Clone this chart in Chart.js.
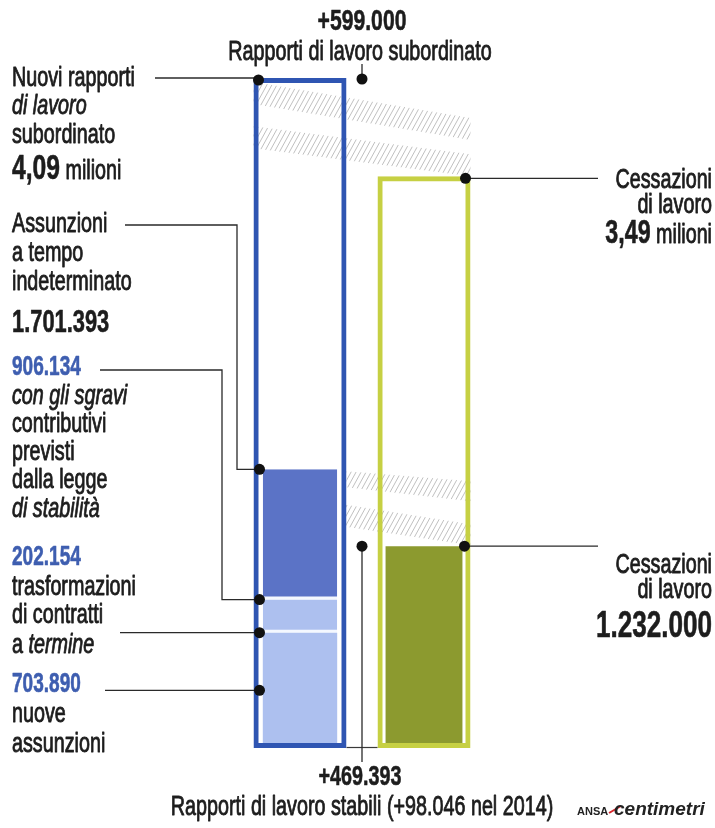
<!DOCTYPE html>
<html lang="it">
<head>
<meta charset="utf-8">
<title>Rapporti di lavoro subordinato</title>
<script src="https://cdn.jsdelivr.net/npm/chart.js@4.4.0/dist/chart.umd.min.js"></script>
<style>
  html, body { margin: 0; padding: 0; background: #fff; }
  #wrap { position: relative; width: 715px; height: 828px; }
</style>
</head>
<body>
<div id="wrap"><canvas id="lavoroChart"></canvas></div>
<script>
// Dati
const categorie = ['Nuovi rapporti di lavoro subordinato', 'Cessazioni di lavoro'];
const totali = [4090000, 3490000];
const nuoveAssunzioni = [703890, null];
const trasformazioni = [202154, null];
const altreIndeterminato = [795349, null]; // fino a 1.701.393
const cessazioniStabili = [null, 1232000];

// Etichette di testo
const etichetteSinistra = [
    ['Nuovi rapporti'], ['di lavoro', 'i'], ['subordinato'], ['4,09', 'b', ' milioni'],
    ['Assunzioni'], ['a tempo'], ['indeterminato'], ['1.701.393', 'b'],
    ['906.134', 'blu'], ['con gli sgravi', 'i'], ['contributivi'], ['previsti'], ['dalla legge'], ['di stabilità', 'i'],
    ['202.154', 'blu'], ['trasformazioni'], ['di contratti'], ['a ', 'r', 'termine', 'i'],
    ['703.890', 'blu'], ['nuove'], ['assunzioni']
];
const baseSinistra = [86, 114, 143, 179, 232, 261, 290, 332, 375, 404, 432, 460, 488, 517, 565, 595, 623, 653, 692, 722, 752];
const etichetteDestra = [['Cessazioni'], ['di lavoro'], ['3,49', 'b', ' milioni'], ['Cessazioni'], ['di lavoro'], ['1.232.000', 'bb']];
const baseDestra = [188, 213, 243, 573, 598, 637];
const titoloAlto = ['+599.000', 'Rapporti di lavoro subordinato'];
const titoloBasso = ['+469.393', 'Rapporti di lavoro stabili (+98.046 nel 2014)'];

const FONT = '"Liberation Sans", Arial, sans-serif';
const SX = 0.705;
const NERO = '#1d1d1d';
const BLU = '#3e5eb0';

function fontDi(run) {
    return (run.italic ? 'italic ' : '') + (run.bold ? 'bold ' : '') + run.size + 'px ' + FONT;
}

// disegna una riga composta da più pezzi, compressa in orizzontale
function scriviRiga(ctx, runs, x, y, align) {
    const larghezze = runs.map(r => { ctx.font = fontDi(r); return ctx.measureText(r.t).width * SX; });
    const tot = larghezze.reduce((a, b) => a + b, 0);
    let cx = align === 'right' ? x - tot : align === 'center' ? x - tot / 2 : x;
    runs.forEach((r, i) => {
        ctx.save();
        ctx.font = fontDi(r);
        ctx.fillStyle = r.color || NERO;
        ctx.strokeStyle = r.color || NERO;
        ctx.lineWidth = r.bold ? 0.6 : 0.9;
        ctx.lineJoin = 'round';
        ctx.textAlign = 'left';
        ctx.textBaseline = 'alphabetic';
        ctx.translate(cx, y);
        ctx.scale(SX, 1);
        ctx.fillText(r.t, 0, 0);
        ctx.strokeText(r.t, 0, 0);
        ctx.restore();
        cx += larghezze[i];
    });
}

function pezzi(riga, grande) {
    const out = [];
    for (let i = 0; i < riga.length; i++) {
        const t = riga[i];
        const tipo = (i + 1 < riga.length && ['i', 'b', 'r', 'blu', 'bb'].includes(riga[i + 1])) ? riga[++i] : 'r';
        if (tipo === 'b') out.push({ t, size: grande || 35, bold: true });
        else if (tipo === 'bb') out.push({ t, size: 37, bold: true });
        else if (tipo === 'blu') out.push({ t, size: 27, bold: true, color: BLU });
        else if (tipo === 'i') out.push({ t, size: 28, italic: true });
        else out.push({ t, size: 28 });
    }
    return out;
}

// tratteggio obliquo dentro un quadrilatero
function tratteggio(ctx, punti) {
    ctx.save();
    ctx.beginPath();
    ctx.moveTo(punti[0][0], punti[0][1]);
    punti.slice(1).forEach(p => ctx.lineTo(p[0], p[1]));
    ctx.closePath();
    ctx.clip();
    const xs = punti.map(p => p[0]), ys = punti.map(p => p[1]);
    const x0 = Math.min(...xs), x1 = Math.max(...xs), y0 = Math.min(...ys), y1 = Math.max(...ys);
    const h = y1 - y0, dx = h * 0.55;
    ctx.strokeStyle = 'rgba(140,140,140,0.55)';
    ctx.lineWidth = 1;
    ctx.beginPath();
    for (let x = x0 - dx; x < x1 + dx; x += 5) {
        ctx.moveTo(x, y1);
        ctx.lineTo(x + dx, y0);
    }
    ctx.stroke();
    ctx.restore();
}

function linea(ctx, punti) {
    ctx.beginPath();
    ctx.moveTo(punti[0][0], punti[0][1]);
    punti.slice(1).forEach(p => ctx.lineTo(p[0], p[1]));
    ctx.stroke();
}

function punto(ctx, x, y) {
    ctx.beginPath();
    ctx.arc(x, y, 5.5, 0, Math.PI * 2);
    ctx.fill();
}

const annotazioni = {
    id: 'annotazioni',
    beforeDatasetsDraw(chart) {
        const ctx = chart.ctx;
        const y = chart.scales.y;
        const bL = chart.getDatasetMeta(0).data[0];
        const bR = chart.getDatasetMeta(0).data[1];
        const xL = bL.x - bL.width / 2, xLr = bL.x + bL.width / 2, xR = bR.x + bR.width / 2;
        const yA = y.getPixelForValue(totali[0]);
        const yB = y.getPixelForValue(totali[1]);
        const yC = y.getPixelForValue(nuoveAssunzioni[0] + trasformazioni[0] + altreIndeterminato[0]);
        const yD = y.getPixelForValue(cessazioniStabili[1]);
        // differenza tra nuovi rapporti e cessazioni
        tratteggio(ctx, [[xL, yA + 4], [xR, yA + 40], [xR, yA + 62], [xL, yA + 26]]);
        tratteggio(ctx, [[xL, yB - 50], [xR, yB - 22], [xR, yB], [xL, yB - 28]]);
        // differenza sui rapporti stabili
        tratteggio(ctx, [[xLr, yC + 2], [xR, yC + 12], [xR, yC + 32], [xLr, yC + 18]]);
        tratteggio(ctx, [[xLr - 4, yD - 42], [xR, yD - 22], [xR, yD - 1], [xLr - 4, yD - 20]]);
    },
    afterDatasetsDraw(chart) {
        const ctx = chart.ctx;
        const y = chart.scales.y;
        const bL = chart.getDatasetMeta(0).data[0];
        const bR = chart.getDatasetMeta(0).data[1];
        const xL = bL.x - bL.width / 2, xLr = bL.x + bL.width / 2;
        const xRl = bR.x - bR.width / 2, xR = bR.x + bR.width / 2;
        const xMid = (xLr + xRl) / 2;
        const y0 = y.getPixelForValue(0);
        const yA = y.getPixelForValue(totali[0]);
        const yB = y.getPixelForValue(totali[1]);
        const yN = y.getPixelForValue(nuoveAssunzioni[0]);
        const yT = y.getPixelForValue(nuoveAssunzioni[0] + trasformazioni[0]);
        const yC = y.getPixelForValue(nuoveAssunzioni[0] + trasformazioni[0] + altreIndeterminato[0]);
        const yD = y.getPixelForValue(cessazioniStabili[1]);
        const yNm = y.getPixelForValue(nuoveAssunzioni[0] / 2);

        ctx.save();
        // linea di base
        ctx.strokeStyle = '#3a3a3a';
        ctx.lineWidth = 1.2;
        linea(ctx, [[xLr, y0 - 0.5], [xRl, y0 - 0.5]]);

        // linee di richiamo
        ctx.strokeStyle = '#2a2a2a';
        ctx.lineWidth = 1.3;
        linea(ctx, [[155, yA], [xL + 5, yA]]);
        linea(ctx, [[xMid, yA], [xMid, 64]]);
        linea(ctx, [[125, 225], [237, 225], [237, yC], [xL + 6, yC]]);
        linea(ctx, [[100, 370], [222, 370], [222, yT], [xL + 6, yT]]);
        linea(ctx, [[120, yN], [xL + 6, yN]]);
        linea(ctx, [[105, yNm], [xL + 6, yNm]]);
        linea(ctx, [[xR - 5, yB + 2], [598, yB + 2]]);
        linea(ctx, [[xR - 6, yD], [598, yD]]);
        linea(ctx, [[xMid, yD], [xMid, 762]]);

        ctx.fillStyle = '#111';
        punto(ctx, xL + 5, yA + 2);
        punto(ctx, xMid, yA + 1);
        punto(ctx, xR - 5, yB + 2);
        punto(ctx, xL + 6, yC);
        punto(ctx, xL + 6, yT);
        punto(ctx, xL + 6, yN);
        punto(ctx, xL + 6, yNm);
        punto(ctx, xR - 6, yD);
        punto(ctx, xMid, yD);

        // testi
        etichetteSinistra.forEach((riga, i) => {
            const grande = riga[0] === '1.701.393' ? 31 : 35;
            scriviRiga(ctx, pezzi(riga, grande), 12, baseSinistra[i], 'left');
        });
        etichetteDestra.forEach((riga, i) => {
            scriviRiga(ctx, pezzi(riga, 33), 712, baseDestra[i], 'right');
        });
        scriviRiga(ctx, [{ t: titoloAlto[0], size: 30, bold: true }], 362, 30, 'center');
        scriviRiga(ctx, [{ t: titoloAlto[1], size: 28 }], 360, 60, 'center');
        scriviRiga(ctx, [{ t: titoloBasso[0], size: 28, bold: true }], 360, 785, 'center');
        scriviRiga(ctx, [{ t: titoloBasso[1], size: 28 }], 362, 815, 'center');

        // firma
        ctx.fillStyle = '#222';
        ctx.font = 'bold 11px ' + FONT;
        ctx.textAlign = 'left';
        ctx.fillText('ANSA', 577, 815);
        ctx.strokeStyle = '#d8262b';
        ctx.lineWidth = 2;
        linea(ctx, [[609, 813], [621, 806]]);
        ctx.font = 'italic bold 19px ' + FONT;
        ctx.fillText('centimetri', 614, 815);
        ctx.restore();
    }
};

const comuni = { grouped: false, categoryPercentage: 1 };

new Chart(document.getElementById('lavoroChart'), {
    type: 'bar',
    data: {
        labels: categorie,
        datasets: [
            {
                ...comuni,
                label: 'Totale',
                data: totali,
                stack: 'totale',
                order: 0,
                barPercentage: 0.75,
                backgroundColor: 'rgba(255,255,255,0)',
                borderColor: ['#2f55b2', '#c6d043'],
                borderWidth: 5,
                borderSkipped: false
            },
            {
                ...comuni,
                label: 'Nuove assunzioni',
                data: nuoveAssunzioni,
                stack: 'dettaglio',
                order: 1,
                barPercentage: 0.6,
                backgroundColor: '#adc0ef'
            },
            {
                ...comuni,
                label: 'Trasformazioni di contratti a termine',
                data: trasformazioni,
                stack: 'dettaglio',
                order: 1,
                barPercentage: 0.6,
                backgroundColor: '#adc0ef',
                borderColor: '#f4f8ff',
                borderWidth: { top: 0, right: 0, bottom: 3, left: 0 },
                borderSkipped: false
            },
            {
                ...comuni,
                label: 'Altre assunzioni a tempo indeterminato',
                data: altreIndeterminato,
                stack: 'dettaglio',
                order: 1,
                barPercentage: 0.6,
                backgroundColor: '#5b73c6',
                borderColor: '#f4f8ff',
                borderWidth: { top: 0, right: 0, bottom: 3, left: 0 },
                borderSkipped: false
            },
            {
                ...comuni,
                label: 'Cessazioni',
                data: cessazioniStabili,
                stack: 'dettaglio',
                order: 1,
                barPercentage: 0.62,
                backgroundColor: '#8c9a2f'
            }
        ]
    },
    options: {
        responsive: true,
        maintainAspectRatio: false,
        animation: false,
        layout: { padding: { top: 78, bottom: 80, left: 238, right: 229 } },
        scales: {
            x: { display: false, stacked: true },
            y: { display: false, stacked: true, min: 0, max: 4090000 }
        },
        plugins: {
            legend: { display: false },
            tooltip: { enabled: false }
        }
    },
    plugins: [annotazioni]
});
</script>
</body>
</html>
